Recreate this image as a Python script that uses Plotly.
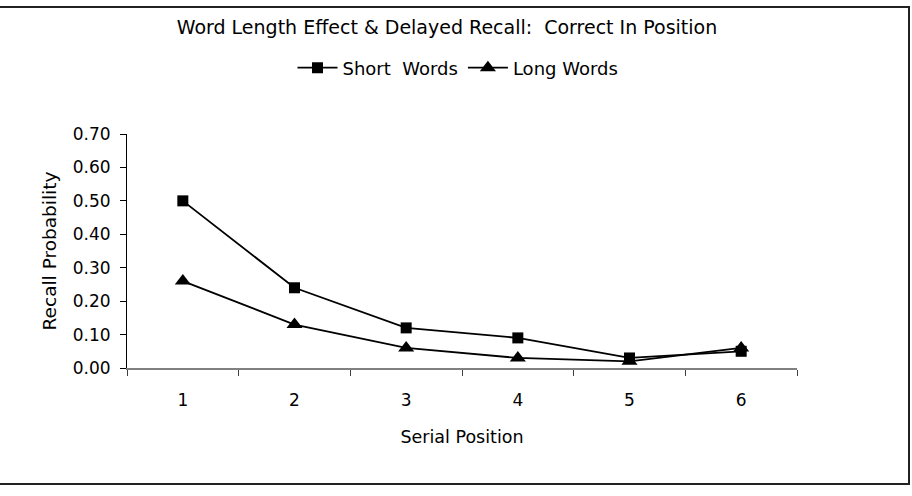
import plotly.graph_objects as go

positions = ["1", "2", "3", "4", "5", "6"]
short_words = [0.50, 0.24, 0.12, 0.09, 0.03, 0.05]
long_words = [0.26, 0.13, 0.06, 0.03, 0.02, 0.06]
y_ticks = [0.0, 0.1, 0.2, 0.3, 0.4, 0.5, 0.6, 0.7]

W, H = 912, 496
L, R, T, B = 127, 797, 134, 368

def px(X):
    return (X - L) / (R - L)

def py(Y):
    return (B - Y) / (B - T)

font = "DejaVu Sans"
fig = go.Figure()
fig.add_trace(go.Scatter(x=positions, y=short_words, name="Short  Words", mode="lines+markers",
                         line=dict(color="black", width=1.8),
                         marker=dict(symbol="square", size=11, color="black")))
fig.add_trace(go.Scatter(x=positions, y=long_words, name="Long Words", mode="lines+markers",
                         line=dict(color="black", width=1.8),
                         marker=dict(symbol="triangle-up", size=14, color="black")))

fig.update_layout(
    width=W, height=H,
    margin=dict(l=L, r=W - R, t=T, b=H - B),
    paper_bgcolor="white", plot_bgcolor="white",
    font=dict(family=font, size=17, color="black"),
    title=dict(text="Word Length Effect & Delayed Recall:  Correct In Position",
               x=447 / W, xanchor="center", y=1 - 27 / H, yanchor="middle",
               font=dict(family=font, size=19, color="black")),
    showlegend=True,
    legend=dict(orientation="h", x=px(458), xanchor="center", y=py(68), yanchor="middle",
                font=dict(family=font, size=18), itemwidth=40, tracegroupgap=0,
                bgcolor="rgba(0,0,0,0)"),
    xaxis=dict(type="category", tickson="boundaries", range=[-0.5, 5.5],
               showgrid=False, zeroline=False,
               showline=True, linecolor="#808080", linewidth=2,
               ticks="outside", ticklen=6, tickcolor="#404040", tickwidth=1,
               tickfont=dict(family=font, size=17), ticklabelstandoff=16,
               title=dict(text="Serial Position", font=dict(family=font, size=17.5), standoff=21)),
    yaxis=dict(range=[0, 0.7], tickvals=y_ticks, ticktext=[f"{v:.2f}" for v in y_ticks],
               showgrid=False, zeroline=False, showline=True, linecolor="black", linewidth=1,
               ticks="outside", ticklen=6, tickcolor="black", tickwidth=1,
               tickfont=dict(family=font, size=17), ticklabelstandoff=6,
               title=dict(text="Recall Probability", font=dict(family=font, size=18.5), standoff=11)),
    shapes=[dict(type="rect", xref="paper", yref="paper",
                 x0=px(-1), x1=px(909), y0=py(484), y1=py(7),
                 line=dict(color="#222222", width=2), layer="above")],
)

fig.write_html("out.html")
